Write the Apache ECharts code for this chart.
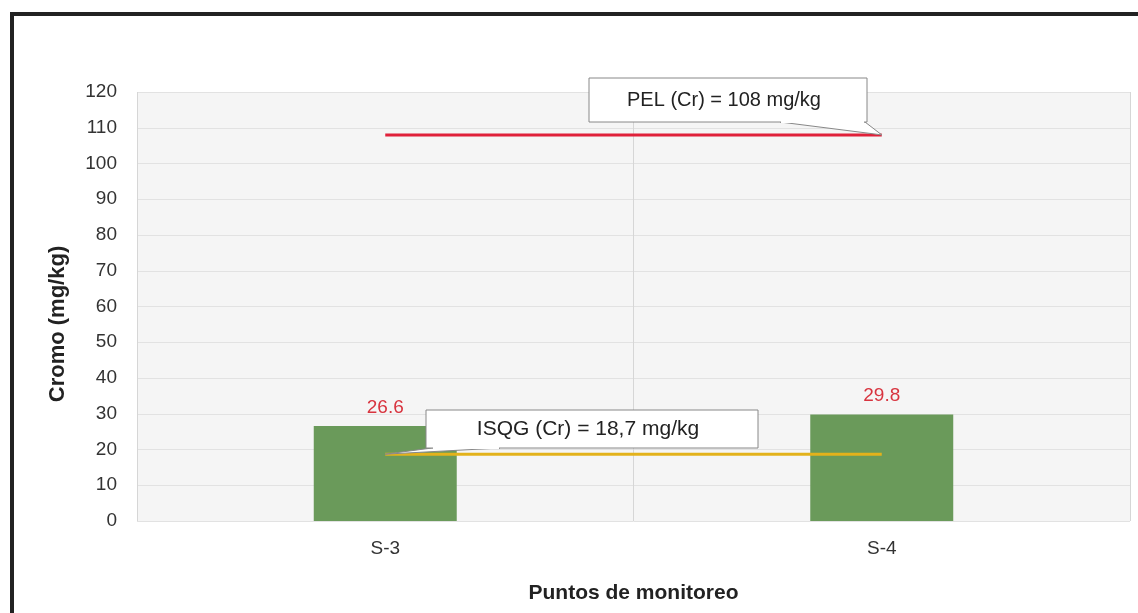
<!DOCTYPE html>
<html><head><meta charset="utf-8">
<script src="https://cdn.jsdelivr.net/npm/echarts@6/dist/echarts.min.js"></script>
<style>html,body{margin:0;padding:0;background:#fff}#c{width:1138px;height:613px}</style>
</head><body><div id="c"></div>
<script>
const categories = ['S-3', 'S-4'];
const cromo = [26.6, 29.8];
const pel = [108, 108];
const isqg = [18.7, 18.7];
const yTicks = [0, 120, 10];
const yTitle = 'Cromo (mg/kg)';
const xTitle = 'Puntos de monitoreo';
const pelLabel = 'PEL (Cr) = 108 mg/kg';
const isqgLabel = 'ISQG (Cr) = 18,7 mg/kg';

const chart = echarts.init(document.getElementById('c'), null, {renderer: 'canvas'});
const font = 'Liberation Sans, Arial, sans-serif';
chart.setOption({
  animation: false,
  backgroundColor: '#fff',
  grid: {left: 137, right: 8, top: 92, bottom: 92, show: true, backgroundColor: '#f5f5f5', borderWidth: 0},
  xAxis: {
    type: 'category', data: categories, boundaryGap: true,
    name: xTitle, nameLocation: 'middle', nameGap: 62,
    nameTextStyle: {fontFamily: font, fontSize: 21, fontWeight: 'bold', color: '#222'},
    axisLine: {show: false}, axisTick: {show: false},
    axisLabel: {fontFamily: font, fontSize: 19, color: '#333', margin: 18},
    splitLine: {show: true, lineStyle: {color: '#d6d6d6', width: 1}}
  },
  yAxis: {
    type: 'value', min: yTicks[0], max: yTicks[1], interval: yTicks[2],
    axisLine: {show: false}, axisTick: {show: false},
    axisLabel: {fontFamily: font, fontSize: 19, color: '#333', margin: 20},
    splitLine: {lineStyle: {color: '#e2e2e2', width: 1}}
  },
  series: [
    {type: 'bar', data: cromo, barWidth: '28.8%', itemStyle: {color: '#6a9a5a'},
     label: {show: true, position: 'top', distance: 9, color: '#d8343f', fontFamily: font, fontSize: 19},
     z: 2},
    {type: 'line', data: pel, symbol: 'none', lineStyle: {color: '#e0213a', width: 3}, z: 3},
    {type: 'line', data: isqg, symbol: 'none', lineStyle: {color: '#e3b21b', width: 3}, z: 3}
  ]
});

function callout(text, box, tip, baseA, baseB, size) {
  return {
    type: 'group', z: 10, children: [
      {type: 'polygon', shape: {points: [baseA, baseB, tip]}, style: {fill: '#fff', stroke: '#888', lineWidth: 1}, z: 10},
      {type: 'rect', shape: {x: box[0], y: box[1], width: box[2], height: box[3]},
       style: {fill: '#fff', stroke: '#888', lineWidth: 1}, z: 11},
      {type: 'rect', shape: {x: baseA[0] + 1, y: box[1] + box[3] - 2, width: baseB[0] - baseA[0] - 2, height: 3},
       style: {fill: '#fff'}, z: 12},
      {type: 'text', style: {x: box[0] + box[2] / 2 - 4, y: box[1] + box[3] / 2, text: text,
        align: 'center', verticalAlign: 'middle', fill: '#222', font: size + 'px ' + font}, z: 13}
    ]
  };
}
const pTip = chart.convertToPixel({xAxisIndex: 0, yAxisIndex: 0}, [categories[1], pel[1]]);
const iTip = chart.convertToPixel({xAxisIndex: 0, yAxisIndex: 0}, [categories[0], isqg[0]]);
chart.setOption({
  graphic: [
    {type: 'rect', shape: {x: 12, y: 14, width: 1140, height: 620}, style: {fill: 'none', stroke: '#222', lineWidth: 4}, z: 20},
    {type: 'text', x: 58, y: 324, rotation: Math.PI / 2,
     style: {text: yTitle, align: 'center', verticalAlign: 'middle', fill: '#222', font: 'bold 22px ' + font}, z: 5},
    callout(pelLabel, [589, 78, 278, 44], pTip, [780, 122], [865, 122], 20),
    callout(isqgLabel, [426, 410, 332, 38], iTip, [432, 448], [500, 448], 21)
  ]
});
</script></body></html>
